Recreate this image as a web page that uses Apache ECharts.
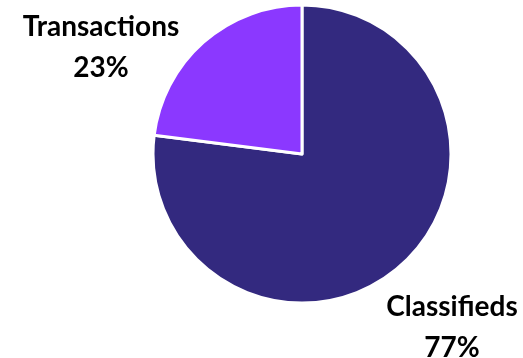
<!DOCTYPE html>
<html>
<head>
<meta charset="utf-8">
<script src="https://cdn.jsdelivr.net/npm/echarts@6/dist/echarts.min.js"></script>
<style>
  html, body { margin: 0; padding: 0; background: #fff; }
  #chart { width: 523px; height: 358px; }
</style>
</head>
<body>
<div id="chart"></div>
<script>
// Revenue split by business line
const categories = ['Classifieds', 'Transactions'];
const shares = [77, 23];
const colors = ['#33297f', '#8b38ff'];

// Label anchor points (centre of each two-line label)
const labelAnchors = [[452, 327], [101, 47]];

const chart = echarts.init(document.getElementById('chart'));
chart.setOption({
  animation: false,
  series: [{
    type: 'pie',
    center: [302, 154],
    radius: [0, 149],
    startAngle: 90,
    clockwise: true,
    data: categories.map((name, i) => ({
      name,
      value: shares[i],
      itemStyle: { color: colors[i] }
    })),
    itemStyle: { borderColor: '#ffffff', borderWidth: 3 },
    label: {
      show: true,
      position: 'outside',
      formatter: '{b}\n{d}%',
      fontFamily: 'Lato',
      fontWeight: 'bold',
      fontSize: 28,
      lineHeight: 41,
      color: '#000',
      align: 'center',
      overflow: 'none',
      width: 300,
      edgeDistance: 0
    },
    labelLine: { show: false },
    labelLayout: function (params) {
      const p = labelAnchors[params.dataIndex];
      return { x: p[0], y: p[1], align: 'center', verticalAlign: 'middle' };
    }
  }]
});
</script>
</body>
</html>
